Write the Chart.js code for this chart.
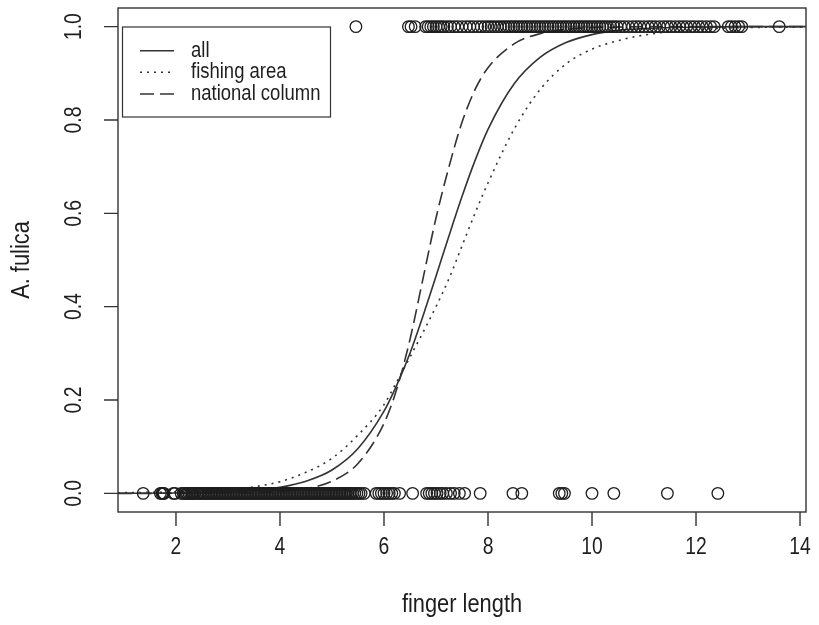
<!DOCTYPE html>
<html>
<head>
<meta charset="utf-8">
<script src="https://cdn.jsdelivr.net/npm/chart.js@4.4.1/dist/chart.umd.min.js"></script>
<style>
html,body{margin:0;padding:0;background:#fff;}
#c{display:block;}
</style>
</head>
<body>
<canvas id="c" width="819" height="625"></canvas>
<script>
// ---- data ----
const xTicks = [2, 4, 6, 8, 10, 12, 14];
const xTickLabels = ['2', '4', '6', '8', '10', '12', '14'];
const yTicks = [0, 0.2, 0.4, 0.6, 0.8, 1.0];
const yTickLabels = ['0.0', '0.2', '0.4', '0.6', '0.8', '1.0'];
const xTitle = 'finger length';
const yTitle = 'A. fulica';
const seriesNames = ['all', 'fishing area', 'national column'];

// observations with A. fulica = 0
const zeroX = [1.37, 1.70, 1.73, 1.75, 1.77, 1.95, 1.98, 2.10, 2.14, 2.17, 2.20, 2.22, 2.25, 2.28, 2.31, 2.33,
  2.36, 2.40, 2.43, 2.46, 2.49, 2.52, 2.55, 2.58, 2.61, 2.64, 2.67, 2.70, 2.73, 2.76, 2.79, 2.82, 2.85, 2.88,
  2.91, 2.94, 2.97, 3.00, 3.03, 3.06, 3.09, 3.12, 3.15, 3.18, 3.21, 3.24, 3.27, 3.30, 3.33, 3.36, 3.39, 3.42,
  3.45, 3.48, 3.51, 3.54, 3.57, 3.60, 3.63, 3.66, 3.69, 3.72, 3.75, 3.78, 3.81, 3.84, 3.87, 3.90, 3.93, 3.96,
  3.99, 4.02, 4.05, 4.08, 4.11, 4.14, 4.17, 4.20, 4.23, 4.26, 4.29, 4.32, 4.35, 4.38, 4.41, 4.44, 4.47, 4.50,
  4.53, 4.56, 4.59, 4.62, 4.65, 4.68, 4.71, 4.74, 4.77, 4.80, 4.83, 4.86, 4.89, 4.92, 4.95, 4.98, 5.01, 5.04,
  5.07, 5.10, 5.13, 5.16, 5.19, 5.22, 5.25, 5.28, 5.31, 5.34, 5.37, 5.40, 5.44, 5.48, 5.52, 5.56, 5.62,
  5.85, 5.90, 5.95, 6.00, 6.05, 6.10, 6.15, 6.20, 6.30, 6.55,
  6.82, 6.87, 6.92, 6.97, 7.02, 7.08, 7.13, 7.20, 7.28, 7.35, 7.45, 7.55, 7.85,
  8.48, 8.65, 9.37, 9.42, 9.47, 10.00, 10.42, 11.45, 12.42];

// observations with A. fulica = 1
const oneX = [5.46, 6.47, 6.52, 6.60, 6.80, 6.85, 6.90, 6.95, 7.00, 7.05, 7.10, 7.15, 7.22, 7.28, 7.35, 7.42,
  7.50, 7.58, 7.65, 7.72, 7.80, 7.87, 7.94, 8.00, 8.06, 8.12, 8.18, 8.24, 8.30, 8.35, 8.40, 8.45, 8.50, 8.55,
  8.60, 8.65, 8.70, 8.75, 8.80, 8.85, 8.90, 8.95, 9.00, 9.05, 9.10, 9.15, 9.20, 9.25, 9.30, 9.35, 9.40, 9.45,
  9.50, 9.55, 9.60, 9.65, 9.70, 9.75, 9.80, 9.85, 9.90, 9.95, 10.00, 10.05, 10.10, 10.15, 10.20, 10.25, 10.30,
  10.36, 10.42, 10.48, 10.55, 10.62, 10.70, 10.78, 10.85, 10.92, 11.00, 11.08, 11.15, 11.22, 11.30, 11.38,
  11.45, 11.52, 11.60, 11.68, 11.75, 11.82, 11.90, 11.97, 12.05, 12.12, 12.20, 12.28, 12.35,
  12.62, 12.68, 12.75, 12.82, 12.88, 13.60];

// fitted curves, values
const curveX = [0.885, 1.37, 2, 2.5, 3, 3.5, 4, 4.5, 5, 5.5, 6, 6.25, 6.5, 6.75, 7, 7.25, 7.5, 7.75, 8,
  8.5, 9, 9.5, 10, 10.5, 11, 12, 13, 14.115];
const allY = [0.0002, 0.0003, 0.0008, 0.0016, 0.0032, 0.0064, 0.013, 0.026, 0.05, 0.096, 0.176, 0.233, 0.30,
  0.38, 0.465, 0.552, 0.636, 0.713, 0.78, 0.877, 0.934, 0.966, 0.983, 0.992, 0.996, 0.999, 1.0, 1.0];
const fishingY = [0.0012, 0.002, 0.003, 0.005, 0.008, 0.014, 0.025, 0.045, 0.075, 0.125, 0.19, 0.24, 0.292,
  0.345, 0.40, 0.46, 0.53, 0.60, 0.665, 0.78, 0.865, 0.92, 0.952, 0.97, 0.982, 0.994, 0.998, 0.9993];
const nationalY = [0.0, 0.0, 0.0001, 0.0002, 0.0006, 0.0015, 0.004, 0.010, 0.026, 0.064, 0.15, 0.225, 0.33,
  0.46, 0.59, 0.70, 0.795, 0.865, 0.912, 0.963, 0.985, 0.994, 0.998, 0.999, 1.0, 1.0, 1.0, 1.0];

// ---- styling ----
const INK = '#1e1e1e';
const LINE = '#333333';
const FONT = '"Liberation Sans", Arial, Helvetica, sans-serif';
const SX = 0.84; // horizontal squeeze of glyphs

function pts(xs, ys) { return xs.map((x, i) => ({ x: x, y: ys[i] })); }
function constPts(xs, v) { return xs.map(x => ({ x: x, y: v })); }

function drawText(ctx, text, x, y, size, align, rotate) {
  ctx.save();
  ctx.translate(x, y);
  if (rotate) ctx.rotate(-Math.PI / 2);
  ctx.scale(SX, 1);
  ctx.font = size + 'px ' + FONT;
  ctx.fillStyle = INK;
  ctx.textAlign = align || 'center';
  ctx.textBaseline = 'middle';
  ctx.fillText(text, 0, 0);
  ctx.restore();
}

const rAxes = {
  id: 'rAxes',
  afterDraw(chart) {
    const ctx = chart.ctx;
    const a = chart.chartArea;
    const xs = chart.scales.x, ys = chart.scales.y;
    ctx.save();
    ctx.strokeStyle = LINE;
    ctx.lineWidth = 1.4;
    ctx.setLineDash([]);
    // box
    ctx.strokeRect(a.left, a.top, a.right - a.left, a.bottom - a.top);
    // ticks
    ctx.beginPath();
    xTicks.forEach(v => {
      const p = xs.getPixelForValue(v);
      ctx.moveTo(p, a.bottom);
      ctx.lineTo(p, a.bottom + 14);
    });
    yTicks.forEach(v => {
      const p = ys.getPixelForValue(v);
      ctx.moveTo(a.left, p);
      ctx.lineTo(a.left - 14, p);
    });
    ctx.stroke();
    xTicks.forEach((v, i) => drawText(ctx, xTickLabels[i], xs.getPixelForValue(v), a.bottom + 36, 23, 'center', false));
    yTicks.forEach((v, i) => drawText(ctx, yTickLabels[i], a.left - 43, ys.getPixelForValue(v), 23, 'center', true));
    drawText(ctx, xTitle, (a.left + a.right) / 2, a.bottom + 93, 26, 'center', false);
    drawText(ctx, yTitle, 22, (a.top + a.bottom) / 2, 26, 'center', true);

    // legend
    const lx = 122.5, ly = 27, lw = 208, lh = 90;
    ctx.lineWidth = 1.2;
    ctx.strokeStyle = LINE;
    ctx.fillStyle = '#fff';
    ctx.fillRect(lx, ly, lw, lh);
    ctx.strokeRect(lx, ly, lw, lh);
    const rows = [50.7, 72.3, 94];
    const dashes = [[], [2, 5], [14, 6]];
    seriesNames.forEach((name, i) => {
      ctx.save();
      ctx.lineWidth = 1.6;
      ctx.strokeStyle = LINE;
      ctx.setLineDash(dashes[i]);
      ctx.beginPath();
      ctx.moveTo(140, rows[i]);
      ctx.lineTo(174, rows[i]);
      ctx.stroke();
      ctx.restore();
      drawText(ctx, name, 191, rows[i], 22, 'left', false);
    });
    ctx.restore();
  }
};

const lineBase = {
  type: 'line', showLine: true, pointRadius: 0, pointHoverRadius: 0, fill: false,
  borderColor: LINE, borderWidth: 1.6, cubicInterpolationMode: 'monotone', borderCapStyle: 'butt'
};

new Chart(document.getElementById('c'), {
  type: 'scatter',
  data: {
    datasets: [
      { label: 'absent', data: constPts(zeroX, 0), pointStyle: 'circle', pointRadius: 5.8,
        pointBorderWidth: 1.3, pointBorderColor: INK, pointBackgroundColor: 'rgba(0,0,0,0)', showLine: false },
      { label: 'present', data: constPts(oneX, 1), pointStyle: 'circle', pointRadius: 5.8,
        pointBorderWidth: 1.3, pointBorderColor: INK, pointBackgroundColor: 'rgba(0,0,0,0)', showLine: false },
      Object.assign({}, lineBase, { label: seriesNames[0], data: pts(curveX, allY) }),
      Object.assign({}, lineBase, { label: seriesNames[1], data: pts(curveX, fishingY), borderDash: [2, 5] }),
      Object.assign({}, lineBase, { label: seriesNames[2], data: pts(curveX, nationalY), borderDash: [14, 6] })
    ]
  },
  options: {
    responsive: false,
    animation: false,
    devicePixelRatio: 1,
    layout: { padding: { left: 118, right: 13, top: 8, bottom: 113 } },
    scales: {
      x: { type: 'linear', min: 0.885, max: 14.115, display: false },
      y: { type: 'linear', min: -0.04, max: 1.04, display: false }
    },
    plugins: { legend: { display: false }, tooltip: { enabled: false } },
    events: []
  },
  plugins: [rAxes]
});
</script>
</body>
</html>
